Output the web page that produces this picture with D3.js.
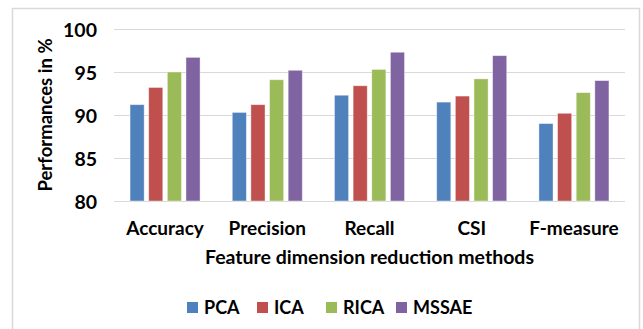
<!DOCTYPE html>
<html><head><meta charset="utf-8">
<script src="https://cdn.jsdelivr.net/npm/d3@7"></script>
<style>body{margin:0;background:#fff}svg{display:block}text{font-family:Lato,"Open Sans",sans-serif;font-weight:bold;fill:#000}</style>
</head><body>
<svg id="c" width="643" height="329"></svg>
<script>
const categories = ["Accuracy","Precision","Recall","CSI","F-measure"];
const seriesNames = ["PCA","ICA","RICA","MSSAE"];
const PCA   = [91.2, 90.3, 92.3, 91.5, 89.0];
const ICA   = [93.2, 91.2, 93.4, 92.2, 90.2];
const RICA  = [95.0, 94.1, 95.3, 94.2, 92.6];
const MSSAE = [96.7, 95.2, 97.3, 96.9, 94.0];
const yTicks = [80,85,90,95,100];
const colors = ["#4f81bd","#c0504d","#9bbb59","#8064a2"];
const values = [PCA, ICA, RICA, MSSAE];

const svg = d3.select("#c");
// outer frame
svg.append("rect").attr("x",12.5).attr("y",8.5).attr("width",627).attr("height",330)
  .attr("fill","#fff").attr("stroke","#d9d9d9").attr("stroke-width",1.5);

const pL=114, pR=625, pT=29, pB=201;
const x0 = d3.scaleBand().domain(categories).range([pL,pR]).paddingInner(0.315).paddingOuter(0.157);
const x1 = d3.scaleBand().domain(seriesNames).range([0,x0.bandwidth()]).paddingInner(0.243);
const y = d3.scaleLinear().domain([80,100]).range([pB,pT]);

// gridlines
svg.append("g").selectAll("line").data(yTicks).join("line")
  .attr("x1",pL).attr("x2",pR).attr("y1",d=>Math.round(y(d))+0.5).attr("y2",d=>Math.round(y(d))+0.5)
  .attr("stroke","#d9d9d9").attr("stroke-width",1.2);

// y axis labels
const yAxis = d3.axisLeft(y).tickValues(yTicks).tickSize(0).tickPadding(0);
const gy = svg.append("g").attr("transform",`translate(97,0)`).call(yAxis);
gy.select(".domain").remove();
gy.selectAll("text").style("font-size","19.5px").attr("font-family",null).attr("dy","0.36em");

// bars
const rows = categories.map((c,i)=>({c, vals: seriesNames.map((s,j)=>({s, v: values[j][i], col: colors[j]}))}));
const g = svg.append("g").selectAll("g").data(rows).join("g").attr("transform",d=>`translate(${x0(d.c)},0)`);
g.selectAll("rect").data(d=>d.vals).join("rect")
  .attr("x",d=>x1(d.s)).attr("width",x1.bandwidth())
  .attr("y",d=>y(d.v)).attr("height",d=>y(80)-y(d.v))
  .attr("fill",d=>d.col).attr("stroke","#fff").attr("stroke-opacity",0.5).attr("stroke-width",0.8);

// x axis labels
const xAxis = d3.axisBottom(x0).tickSize(0).tickPadding(0);
const gx = svg.append("g").attr("transform",`translate(0,221)`).call(xAxis);
gx.select(".domain").remove();
gx.selectAll("text").style("font-size","19px").attr("font-family",null).attr("dy","0.72em");

// axis titles
svg.append("text").attr("x",(pL+pR)/2).attr("y",264).attr("text-anchor","middle")
  .style("font-size","19.5px").text("Feature dimension reduction methods");
svg.append("text").attr("transform","translate(52,115) rotate(-90)").attr("text-anchor","middle")
  .style("font-size","18.5px").text("Performances in %");

// legend
const legX = [187,257,326,396];
const leg = svg.append("g").selectAll("g").data(seriesNames).join("g")
  .attr("transform",(d,i)=>`translate(${legX[i]},302)`);
leg.append("rect").attr("width",11).attr("height",11).attr("fill",(d,i)=>colors[i]);
leg.append("text").attr("x",17).attr("y",11.5).style("font-size","18px").text(d=>d);
</script>
</body></html>
